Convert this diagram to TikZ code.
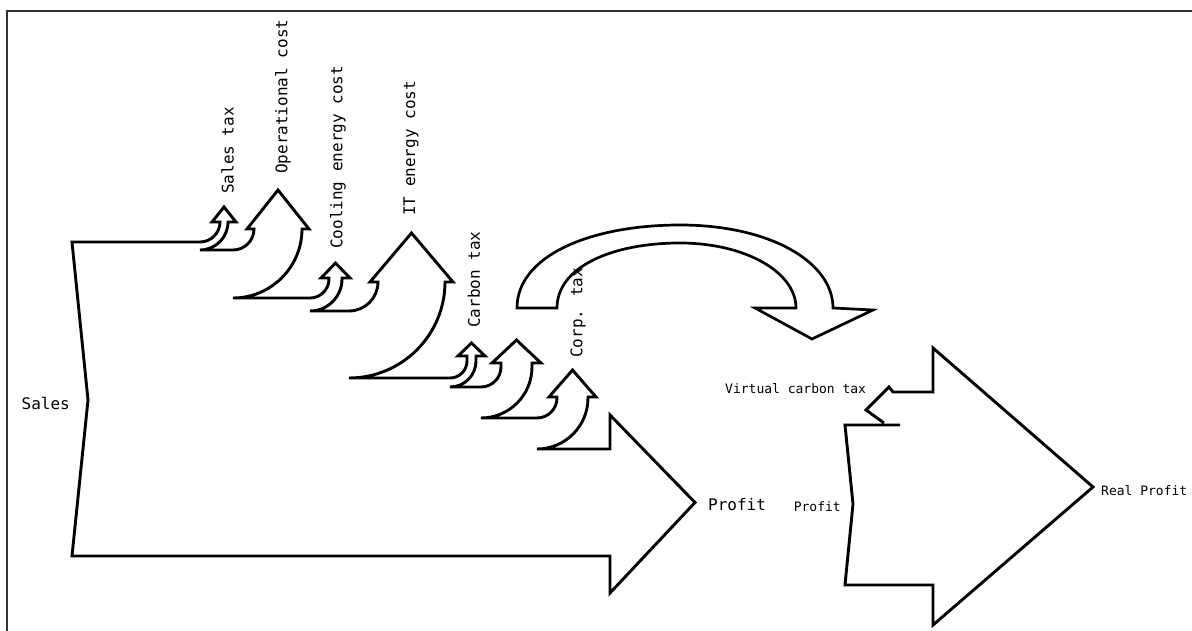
\documentclass[tikz,border=0pt]{standalone}
\usepackage{fontspec}
\newfontfamily\monofont{DejaVu Sans Mono}
\newcommand\bigmono{\monofont\fontsize{16}{16}\selectfont}
\newcommand\smallmono{\monofont\fontsize{13}{13}\selectfont}
\begin{document}
\begin{tikzpicture}[x=1pt,y=-1pt,
  flowline/.style={draw=black, line width=2.9pt, line join=miter, miter limit=4},
  bendarrow/.style={draw=black, line width=2.7pt, line join=miter},
  framestyle/.style={draw=black!80, line width=1.2pt},
  biglabel/.style={font=\bigmono, inner sep=0pt, text=black},
  smalllabel/.style={font=\smallmono, inner sep=0pt, text=black},
  vlabel/.style={biglabel, rotate=90, anchor=west}]
\useasboundingbox (0,0) rectangle (1192,631);
% frame (top and left only)
\draw[framestyle] (7,631) -- (7,11) -- (1192,11);

% ---- first diagram ----
\draw[flowline] (72,242) -- (200,242)
 .. controls (211,242) and (220,233) .. (220,222)
 -- (212,222) -- (224,207) -- (236,222) -- (228,222)
 .. controls (228,237.5) and (215.5,250) .. (200,250)
 -- (233,250)
 .. controls (244.6,250) and (254,240.6) .. (254,229)
 -- (247,229) -- (278,190) -- (309,229) -- (302,229)
 .. controls (302,267.1) and (271.1,298) .. (233,298)
 -- (310,298)
 .. controls (320.5,298) and (329,289.5) .. (329,279)
 -- (329,278) -- (321,278) -- (335.5,263) -- (350,278) -- (342,278) -- (342,279)
 .. controls (342,296.7) and (327.7,311) .. (310,311)
 -- (349,311)
 .. controls (365,311) and (378,298) .. (378,282)
 -- (370,282) -- (411.5,233) -- (453,282) -- (445,282)
 .. controls (445,335) and (402,378) .. (349,378)
 -- (450,378)
 .. controls (459.4,378) and (467,370.4) .. (467,361)
 -- (467,356) -- (458,356) -- (471.5,343) -- (485,356) -- (476,356) -- (476,361)
 .. controls (476,375.4) and (464.4,387) .. (450,387)
 -- (481,387)
 .. controls (492,387) and (501,378) .. (501,367)
 -- (501,363) -- (492,363) -- (516.5,340) -- (541,363) -- (532,363) -- (532,367)
 .. controls (532,395.2) and (509.2,418) .. (481,418)
 -- (537,418)
 .. controls (548,418) and (557,409) .. (557,398)
 -- (557,397) -- (549,397) -- (572.5,370) -- (596,397) -- (588,397) -- (588,398)
 .. controls (588,426.2) and (565.2,449) .. (537,449)
 -- (610,449) -- (610,415) -- (695,502.5) -- (610,593) -- (610,556)
 -- (72,556) -- (88,400) -- cycle;

\node[biglabel, anchor=east] (lsales) at (70,403) {Sales};
\node[vlabel] (lsalestax) at (227.5,194) {Sales tax};
\node[vlabel] (lop) at (283,174) {Operational cost};
\node[vlabel] (lcool) at (338,249) {Cooling energy cost};
\node[vlabel] (lit) at (411,216) {IT energy cost};
\node[vlabel] (lcarbon) at (474,328) {Carbon tax};
\node[vlabel] (lcorp) at (578,358) {Corp. tax};
\node[biglabel, anchor=west] (lprofit) at (708,505) {Profit};

% ---- bent transfer arrow ----
\draw[bendarrow] (517,308)
 .. controls (517,256) and (590,225) .. (680,225)
 .. controls (770,225) and (833,262) .. (833,308)
 -- (873,310) -- (812,339) -- (755,308) -- (796,308)
 .. controls (796,272) and (745,243) .. (680,243)
 .. controls (612,243) and (557,267) .. (557,308)
 -- cycle;

% ---- second diagram ----
\draw[flowline] (900,425) -- (845,425) -- (853,504) -- (845,585) -- (933,585)
 -- (933,625) -- (1093,487) -- (933,348) -- (933,392) -- (893,392)
 -- (889,387) -- (866,410) -- (884,423);

\node[smalllabel, anchor=east] (lprofit2) at (841,507) {Profit};
\node[smalllabel, anchor=west] (lvirtual) at (725,389) {Virtual carbon tax};
\node[smalllabel, anchor=west] (lreal) at (1101,491) {Real Profit};
\end{tikzpicture}
\end{document}
